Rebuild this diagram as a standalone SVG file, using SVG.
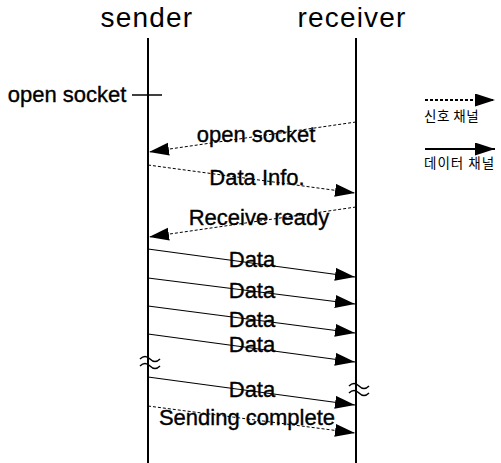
<svg xmlns="http://www.w3.org/2000/svg" width="501" height="463" viewBox="0 0 501 463">
<style>
.t{font-family:"Liberation Sans",Arial,sans-serif;fill:#000}
.title{font-size:28px;text-anchor:middle;letter-spacing:1.2px}
.lbl{font-size:22px;text-anchor:middle;stroke:#000;stroke-width:0.35}
.leg{font-family:"Noto Sans CJK KR","Liberation Sans",sans-serif;font-size:13.5px;fill:#000}
.life{stroke:#000;stroke-width:2;fill:none}
.sig{stroke:#000;stroke-width:1;stroke-dasharray:3,2;fill:none;marker-end:url(#ah)}
.dat{stroke:#000;stroke-width:1.2;fill:none;marker-end:url(#ah)}
.brk{stroke:#000;stroke-width:1.5;fill:none}
</style>
<defs>
<marker id="ah" markerUnits="userSpaceOnUse" markerWidth="21" markerHeight="14" refX="20" refY="6.5" orient="auto">
<path d="M0,0 L20,6.5 L0,13 z" fill="#000"/>
</marker>
</defs>
<rect width="501" height="463" fill="#fff"/>
<g id="sender">
<text class="t title" x="147" y="27">sender</text>
<line class="life" x1="148" y1="38" x2="148" y2="463"/>
<path class="brk" d="M140,359 q5,-5 10,0 t10,0 M140,366 q5,-5 10,0 t10,0"/>
</g>
<g id="receiver">
<text class="t title" x="352" y="27">receiver</text>
<line class="life" x1="356" y1="38" x2="356" y2="463"/>
<path class="brk" d="M349,386 q5,-5 10,0 t10,0 M349,393 q5,-5 10,0 t10,0"/>
</g>
<g id="open-socket-local">
<text class="t lbl" x="67" y="102">open socket</text>
<line stroke="#000" stroke-width="1.5" x1="132" y1="95" x2="162" y2="95"/>
</g>
<g id="legend">
<line class="sig" style="stroke-width:2" x1="425" y1="100" x2="495" y2="100"/>
<text class="leg" x="424" y="121" letter-spacing="0.5">신호 채널</text>
<line class="dat" style="stroke-width:2" x1="425" y1="149" x2="495" y2="149"/>
<text class="leg" x="424" y="168" letter-spacing="1">데이터 채널</text>
</g>
<g id="connectors">
<line class="sig" x1="356" y1="122" x2="149" y2="152"/>
<line class="sig" x1="148" y1="165" x2="355" y2="193"/>
<line class="sig" x1="356" y1="207" x2="149" y2="237"/>
<line class="dat" x1="148" y1="249" x2="355" y2="277"/>
<line class="dat" x1="148" y1="278" x2="355" y2="304"/>
<line class="dat" x1="148" y1="306" x2="355" y2="333"/>
<line class="dat" x1="148" y1="334" x2="355" y2="362"/>
<line class="dat" x1="148" y1="377" x2="355" y2="405"/>
<line class="sig" x1="148" y1="406" x2="355" y2="433"/>
</g>
<g id="labels">
<text class="t lbl" x="256" y="142">open socket</text>
<text class="t lbl" x="257" y="185">Data Info.</text>
<text class="t lbl" x="259" y="225">Receive ready</text>
<text class="t lbl" x="252" y="267">Data</text>
<text class="t lbl" x="252" y="298">Data</text>
<text class="t lbl" x="252" y="327">Data</text>
<text class="t lbl" x="252" y="352">Data</text>
<text class="t lbl" x="252" y="397">Data</text>
<text class="t lbl" x="247" y="425">Sending complete</text>
</g>
</svg>
